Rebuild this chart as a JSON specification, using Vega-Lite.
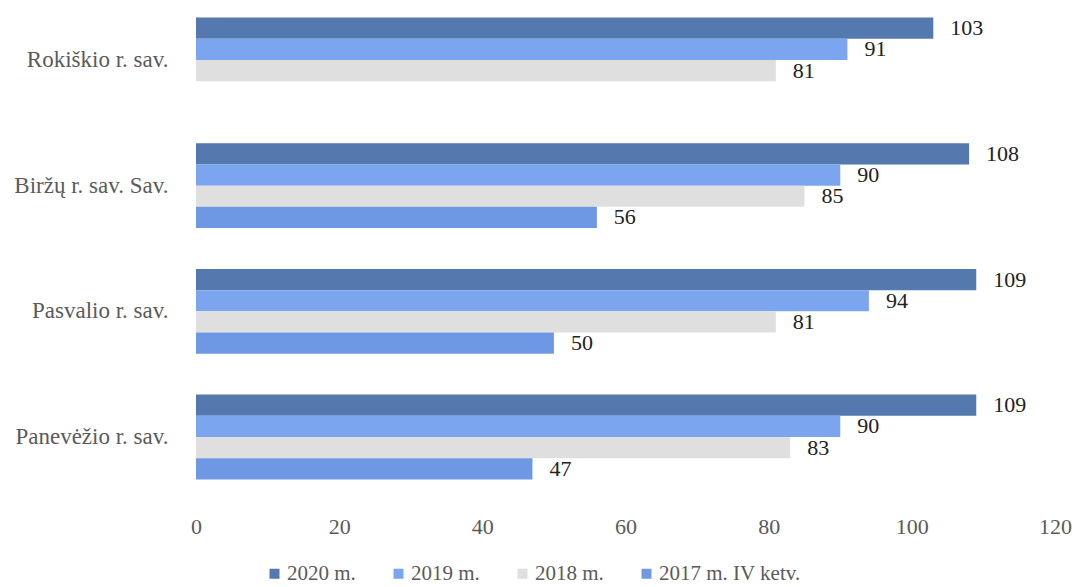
{
  "$schema": "https://vega.github.io/schema/vega-lite/v6.json",
  "width": 859,
  "height": 487,
  "autosize": {"type": "none"},
  "padding": {"left": 196, "top": 5, "right": 21, "bottom": 95},
  "background": "white",
  "config": {
    "font": "Liberation Serif",
    "view": {"stroke": null}
  },
  "data": {
    "values": [
      {"region": "Rokiškio r. sav.", "series": "2020 m.", "value": 103},
      {"region": "Rokiškio r. sav.", "series": "2019 m.", "value": 91},
      {"region": "Rokiškio r. sav.", "series": "2018 m.", "value": 81},
      {"region": "Biržų r. sav. Sav.", "series": "2020 m.", "value": 108},
      {"region": "Biržų r. sav. Sav.", "series": "2019 m.", "value": 90},
      {"region": "Biržų r. sav. Sav.", "series": "2018 m.", "value": 85},
      {"region": "Biržų r. sav. Sav.", "series": "2017 m. IV ketv.", "value": 56},
      {"region": "Pasvalio r. sav.", "series": "2020 m.", "value": 109},
      {"region": "Pasvalio r. sav.", "series": "2019 m.", "value": 94},
      {"region": "Pasvalio r. sav.", "series": "2018 m.", "value": 81},
      {"region": "Pasvalio r. sav.", "series": "2017 m. IV ketv.", "value": 50},
      {"region": "Panevėžio r. sav.", "series": "2020 m.", "value": 109},
      {"region": "Panevėžio r. sav.", "series": "2019 m.", "value": 90},
      {"region": "Panevėžio r. sav.", "series": "2018 m.", "value": 83},
      {"region": "Panevėžio r. sav.", "series": "2017 m. IV ketv.", "value": 47}
    ]
  },
  "encoding": {
    "y": {
      "field": "region",
      "type": "nominal",
      "sort": ["Rokiškio r. sav.", "Biržų r. sav. Sav.", "Pasvalio r. sav.", "Panevėžio r. sav."],
      "scale": {"paddingInner": 0.325, "paddingOuter": 0.1},
      "axis": {
        "title": null,
        "domain": false,
        "ticks": false,
        "labelFont": "Liberation Serif",
        "labelFontSize": 23,
        "labelColor": "#5a5a5a",
        "labelPadding": 28,
        "labelLimit": 300
      }
    },
    "yOffset": {
      "field": "series",
      "type": "nominal",
      "sort": ["2020 m.", "2019 m.", "2018 m.", "2017 m. IV ketv."],
      "scale": {"paddingInner": 0, "paddingOuter": 0}
    },
    "x": {
      "field": "value",
      "type": "quantitative",
      "scale": {"domain": [0, 120], "nice": false},
      "axis": {
        "title": null,
        "domain": false,
        "ticks": false,
        "grid": false,
        "values": [0, 20, 40, 60, 80, 100, 120],
        "labelFlush": false,
        "labelFont": "Liberation Serif",
        "labelFontSize": 22,
        "labelColor": "#5a5a5a",
        "labelPadding": 24
      }
    }
  },
  "layer": [
    {
      "mark": {"type": "bar"},
      "encoding": {
        "color": {
          "field": "series",
          "type": "nominal",
          "sort": ["2020 m.", "2019 m.", "2018 m.", "2017 m. IV ketv."],
          "scale": {
            "domain": ["2020 m.", "2019 m.", "2018 m.", "2017 m. IV ketv."],
            "range": ["#5379ae", "#7ba6ef", "#e0dfdf", "#6e98e4"]
          },
          "legend": {
            "title": null,
            "orient": "none",
            "direction": "horizontal",
            "legendX": 68,
            "legendY": 558,
            "symbolType": "square",
            "symbolSize": 100,
            "symbolStrokeWidth": 0,
            "labelFont": "Liberation Serif",
            "labelFontSize": 21,
            "labelColor": "#5a5a5a",
            "columnPadding": 32,
            "labelOffset": 2,
            "labelLimit": 300
          }
        }
      }
    },
    {
      "mark": {"type": "text", "align": "left", "baseline": "middle", "dx": 17, "fontSize": 22, "font": "Liberation Serif", "color": "#222222"},
      "encoding": {
        "text": {"field": "value", "type": "quantitative"}
      }
    }
  ]
}
